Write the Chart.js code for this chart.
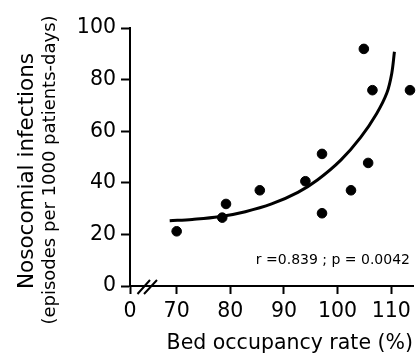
<!DOCTYPE html>
<html>
<head>
<meta charset="utf-8">
<script src="https://cdn.jsdelivr.net/npm/chart.js@4/dist/chart.umd.min.js"></script>
<style>
  html, body { margin: 0; padding: 0; background: #fff; }
  #wrap { width: 419px; height: 353px; }
</style>
</head>
<body>
<div id="wrap"><canvas id="scatter-chart" width="419" height="353"></canvas></div>
<script>
// data
const occupancy = [70.0, 78.5, 79.2, 85.5, 94.0, 97.1, 97.1, 102.5, 104.9, 105.7, 106.5, 113.5];
const infections = [21.2, 26.5, 31.8, 37.1, 40.6, 51.2, 28.2, 37.1, 91.9, 47.7, 75.9, 75.9];

// fitted curve
const fitX = [68.7, 72.9, 77.9, 82.8, 87.7, 92.6, 96.3, 100.6, 104.3, 107.3, 109.2, 110.1, 110.6];
const fitY = [25.3, 25.8, 26.8, 28.8, 31.8, 36.3, 41.2, 48.8, 57.6, 66.9, 74.9, 82.4, 90.8];

// axis ticks (the x axis is broken: "0" sits at the start of the scale)
const xTickValues = [61.3, 70, 80, 90, 100, 110];
const xTickLabels = ["0", "70", "80", "90", "100", "110"];
const yTickValues = [0, 20, 40, 60, 80, 100];

const yTitle = "Nosocomial infections";
const ySubTitle = "(episodes per 1000 patients-days)";
const xTitle = "Bed occupancy rate (%)";
const statsText = "r =0.839 ; p = 0.0042";

const FONT = "'DejaVu Sans', Verdana, sans-serif";

// titles, stats label and axis break marks
const extrasPlugin = {
  id: "extras",
  afterDraw(chart) {
    const ctx = chart.ctx;
    const y = chart.scales.y;
    ctx.save();
    ctx.fillStyle = "#000";

    // y titles
    ctx.textAlign = "center";
    ctx.textBaseline = "alphabetic";
    ctx.save();
    ctx.translate(33, 171);
    ctx.rotate(-Math.PI / 2);
    ctx.font = "21.5px " + FONT;
    ctx.fillText(yTitle, 0, 0);
    ctx.restore();
    ctx.save();
    ctx.translate(55, 170);
    ctx.rotate(-Math.PI / 2);
    ctx.font = "18px " + FONT;
    ctx.fillText(ySubTitle, 0, 0);
    ctx.restore();

    // x title
    ctx.font = "20.5px " + FONT;
    ctx.textAlign = "right";
    ctx.fillText(xTitle, 413, 349);

    // stats
    ctx.font = "14px " + FONT;
    ctx.textAlign = "right";
    ctx.textBaseline = "middle";
    ctx.fillText(statsText, 410, 260);

    // axis break "//"
    const y0 = y.getPixelForValue(0);
    ctx.strokeStyle = "#000";
    ctx.lineWidth = 2;
    ctx.beginPath();
    ctx.moveTo(137.5, y0 + 8);
    ctx.lineTo(150, y0 - 6);
    ctx.moveTo(144, y0 + 8);
    ctx.lineTo(157, y0 - 6);
    ctx.stroke();
    ctx.restore();
  }
};

const ctx = document.getElementById("scatter-chart").getContext("2d");
new Chart(ctx, {
  type: "scatter",
  data: {
    datasets: [
      {
        label: "Hospitals",
        data: occupancy.map((v, i) => ({ x: v, y: infections[i] })),
        backgroundColor: "#000",
        borderColor: "#000",
        pointRadius: 4.8,
        pointHoverRadius: 4.8,
      },
      {
        label: "Fit",
        data: fitX.map((v, i) => ({ x: v, y: fitY[i] })),
        showLine: true,
        borderColor: "#000",
        borderWidth: 3,
        pointRadius: 0,
        tension: 0.35,
        fill: false,
      },
    ],
  },
  options: {
    responsive: false,
    animation: false,
    events: [],
    layout: { padding: { top: 28, right: 2, left: 0, bottom: 0 } },
    plugins: {
      legend: { display: false },
      tooltip: { enabled: false },
    },
    clip: false,
    scales: {
      x: {
        type: "linear",
        min: 61.3,
        max: 114.1,
        afterBuildTicks: (scale) => {
          scale.ticks = xTickValues.map((v) => ({ value: v }));
        },
        afterFit: (scale) => {
          scale.height = 353 - 286;
        },
        grid: {
          display: true,
          drawOnChartArea: false,
          drawTicks: true,
          tickLength: 8,
          tickWidth: 2,
          tickColor: "#000",
        },
        border: { display: true, color: "#000", width: 2 },
        ticks: {
          autoSkip: false,
          maxRotation: 0,
          padding: 5,
          color: "#000",
          font: { family: FONT, size: 20.5 },
          callback: (value, index) => xTickLabels[index],
        },
      },
      y: {
        type: "linear",
        min: 0,
        max: 100,
        afterBuildTicks: (scale) => {
          scale.ticks = yTickValues.map((v) => ({ value: v }));
        },
        afterFit: (scale) => {
          scale.width = 130;
        },
        grid: {
          display: true,
          drawOnChartArea: false,
          drawTicks: true,
          tickLength: 9,
          tickWidth: 2,
          tickColor: "#000",
        },
        border: { display: true, color: "#000", width: 2 },
        ticks: {
          padding: 5,
          color: "#000",
          font: { family: FONT, size: 20.5 },
        },
      },
    },
  },
  plugins: [extrasPlugin],
});
</script>
</body>
</html>
